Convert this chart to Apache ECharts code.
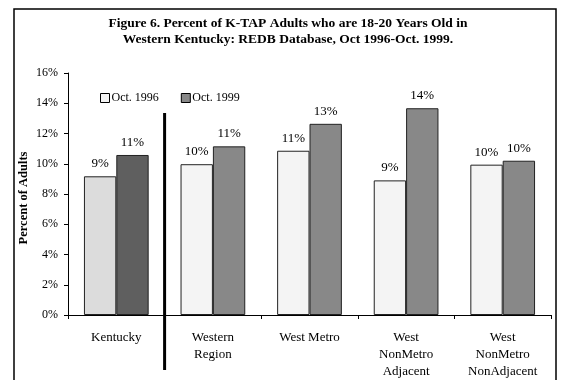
<!DOCTYPE html>
<html>
<head>
<meta charset="utf-8">
<script src="https://cdn.jsdelivr.net/npm/echarts@6/dist/echarts.min.js"></script>
<style>
  html, body { margin: 0; padding: 0; background: #fff; }
  #chart { width: 561px; height: 380px; }
</style>
</head>
<body>
<div id="chart"></div>
<script>
  // regions along the x axis
  var categories = ['Kentucky', 'Western\nRegion', 'West Metro', 'West\nNonMetro\nAdjacent', 'West\nNonMetro\nNonAdjacent'];
  var seriesNames = ['Oct. 1996', 'Oct. 1999'];
  // percent of adults aged 18-20
  var oct1996 = [9.17, 9.97, 10.86, 8.9, 9.94];
  var oct1999 = [10.58, 11.15, 12.64, 13.67, 10.2];

  var serif = '"Liberation Serif", "DejaVu Serif", serif';

  // Kentucky bars are drawn in their own shades
  function withKentucky(values, kyColor) {
    return values.map(function (v, i) {
      if (i === 0) return { value: v, itemStyle: { color: kyColor } };
      return v;
    });
  }

  var barLabel = {
    show: true,
    position: 'top',
    distance: 6,
    color: '#000',
    fontFamily: serif,
    fontSize: 13,
    formatter: function (p) { return Math.round(p.value) + '%'; }
  };

  var myChart = echarts.init(document.getElementById('chart'));

  myChart.setOption({
    animation: false,
    textStyle: { fontFamily: serif },
    title: {
      text: 'Figure 6. Percent of K-TAP Adults who are 18-20 Years Old in\nWestern Kentucky: REDB Database, Oct 1996-Oct. 1999.',
      left: 283,
      textAlign: 'center',
      top: 11,
      textStyle: { fontFamily: serif, fontSize: 13.5, fontWeight: 'bold', color: '#000', lineHeight: 16 }
    },
    legend: {
      data: seriesNames,
      left: 95,
      top: 87,
      icon: 'rect',
      itemWidth: 9,
      itemHeight: 9,
      itemGap: 22,
      itemStyle: { borderColor: '#000', borderWidth: 1 },
      textStyle: { fontFamily: serif, fontSize: 12, color: '#000', padding: [0, 0, 0, -3] }
    },
    grid: { left: 68, right: 10, top: 73, bottom: 64 },
    xAxis: {
      type: 'category',
      data: categories,
      axisLine: { lineStyle: { color: '#000', width: 1 } },
      axisTick: { show: true, length: 4, lineStyle: { color: '#000' } },
      axisLabel: { color: '#000', fontFamily: serif, fontSize: 13, lineHeight: 17, margin: 14, interval: 0 }
    },
    yAxis: {
      type: 'value',
      min: 0,
      max: 16,
      interval: 2,
      name: 'Percent of Adults',
      nameLocation: 'middle',
      nameGap: 38,
      nameMoveOverlap: false,
      nameTextStyle: { fontFamily: serif, fontSize: 12.5, fontWeight: 'bold', color: '#000', padding: [0, 8, 0, 0] },
      axisLine: { show: true, lineStyle: { color: '#000', width: 1 } },
      axisTick: { show: true, length: 4, lineStyle: { color: '#000' } },
      splitLine: { show: false },
      axisLabel: { color: '#000', fontFamily: serif, fontSize: 12, margin: 10, formatter: '{value}%' }
    },
    series: [
      {
        name: seriesNames[0],
        type: 'bar',
        barGap: '0%',
        barCategoryGap: '33%',
        itemStyle: { color: '#f4f4f4', borderColor: '#222', borderWidth: 1 },
        label: barLabel,
        data: withKentucky(oct1996, '#dcdcdc')
      },
      {
        name: seriesNames[1],
        type: 'bar',
        itemStyle: { color: '#888888', borderColor: '#222', borderWidth: 1 },
        label: barLabel,
        data: withKentucky(oct1999, '#5f5f5f')
      }
    ]
  });

  // frame and the separator after Kentucky
  var c0 = myChart.convertToPixel({ xAxisIndex: 0 }, 0);
  var c1 = myChart.convertToPixel({ xAxisIndex: 0 }, 1);
  var sepX = (c0 + c1) / 2;

  myChart.setOption({
    graphic: [
      {
        type: 'rect',
        shape: { x: 14, y: 9, width: 542, height: 400 },
        style: { fill: null, stroke: '#000', lineWidth: 1.5 },
        silent: true
      },
      {
        type: 'line',
        shape: { x1: sepX, y1: 113, x2: sepX, y2: 370 },
        style: { stroke: '#000', lineWidth: 3 },
        silent: true
      }
    ]
  });
</script>
</body>
</html>
